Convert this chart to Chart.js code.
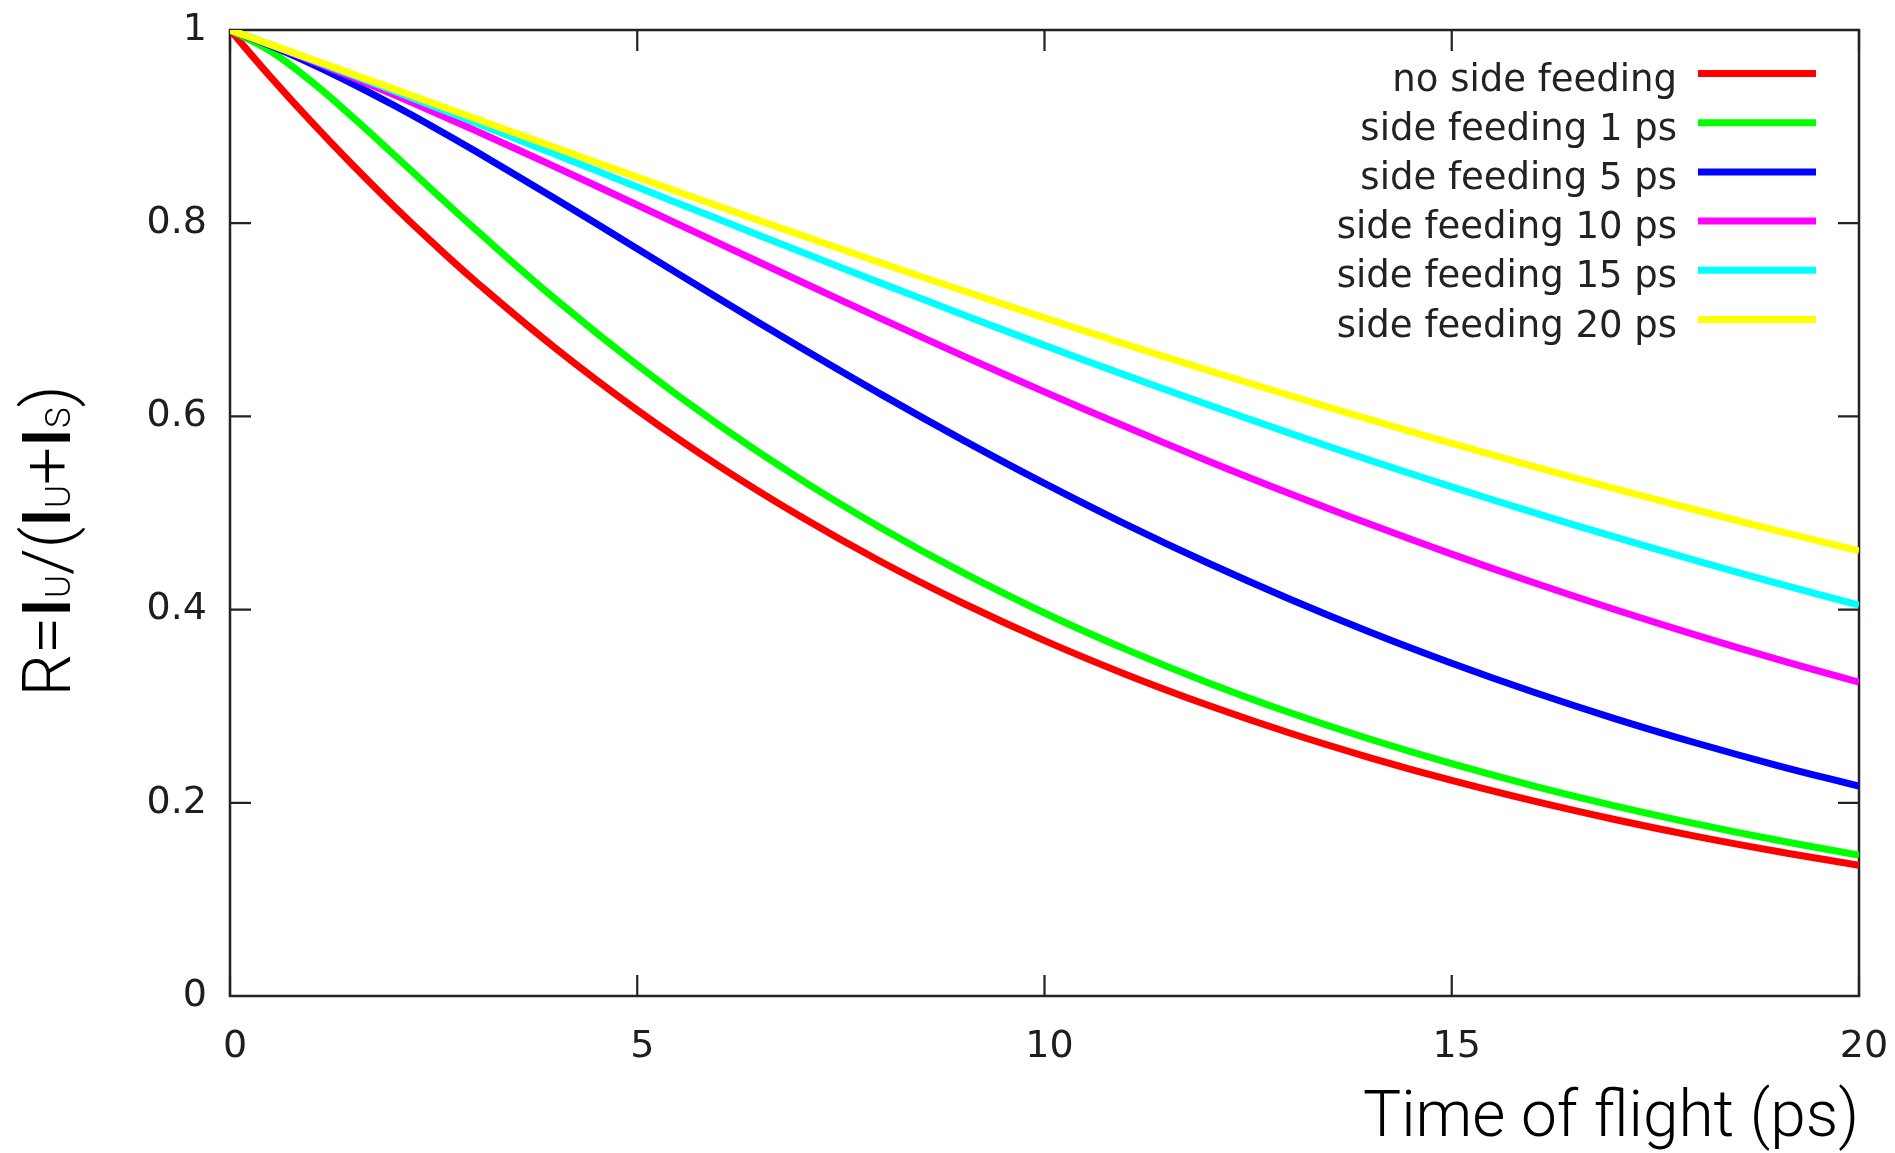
<!DOCTYPE html>
<html><head><meta charset="utf-8">
<script src="https://cdn.jsdelivr.net/npm/chart.js@4.4.1/dist/chart.umd.min.js"></script>
<style>
html,body{margin:0;padding:0;background:#fff;}
#wrap{width:1895px;height:1153px;position:relative;}
</style></head><body>
<div id="wrap"><canvas id="c" width="1895" height="1153"></canvas></div>
<script>
// ---- data ----
const times = [0,0.5,1,1.5,2,2.5,3,4,5,6,7,8,9,10,11,12,13,14,15,16,17,18,19,20];
const seriesLabels = ['no side feeding','side feeding 1 ps','side feeding 5 ps','side feeding 10 ps','side feeding 15 ps','side feeding 20 ps'];
const seriesColors = ['#ff0000','#00ff00','#0000ff','#ff00ff','#00ffff','#ffff00'];
const noSideFeeding = [1,0.9512,0.9048,0.8607,0.8187,0.7788,0.7408,0.6703,0.6065,0.5488,0.4966,0.4493,0.4066,0.3679,0.3329,0.3012,0.2725,0.2466,0.2231,0.2019,0.1827,0.1653,0.1496,0.1353];
const sideFeeding1  = [1,0.9780,0.9466,0.9103,0.8719,0.8330,0.7946,0.7210,0.6532,0.5913,0.5351,0.4843,0.4382,0.3965,0.3588,0.3246,0.2937,0.2658,0.2405,0.2176,0.1969,0.1782,0.1612,0.1459];
const sideFeeding5  = [1,0.9837,0.9651,0.9446,0.9226,0.8994,0.8752,0.8250,0.7736,0.7221,0.6716,0.6225,0.5755,0.5307,0.4883,0.4485,0.4113,0.3766,0.3445,0.3147,0.2872,0.2619,0.2386,0.2172];
const sideFeeding10 = [1,0.9845,0.9682,0.9511,0.9334,0.9151,0.8964,0.8580,0.8188,0.7793,0.7399,0.7010,0.6627,0.6254,0.5892,0.5542,0.5205,0.4883,0.4574,0.4280,0.4001,0.3736,0.3485,0.3248];
const sideFeeding15 = [1,0.9848,0.9692,0.9534,0.9373,0.9209,0.9044,0.8711,0.8375,0.8040,0.7706,0.7377,0.7053,0.6735,0.6425,0.6123,0.5830,0.5545,0.5271,0.5006,0.4752,0.4507,0.4272,0.4047];
const sideFeeding20 = [1,0.9849,0.9698,0.9546,0.9393,0.9240,0.9087,0.8781,0.8477,0.8176,0.7879,0.7587,0.7301,0.7020,0.6746,0.6479,0.6219,0.5966,0.5721,0.5483,0.5253,0.5031,0.4816,0.4609];
const seriesValues = [noSideFeeding, sideFeeding1, sideFeeding5, sideFeeding10, sideFeeding15, sideFeeding20];
const xTickLabels = ['0','5','10','15','20'];
const yTickLabels = ['0','0.2','0.4','0.6','0.8','1'];
const xAxisTitle = 'Time of flight (ps)';
const yTitleParts = [
  {t:'R=', small:false}, {t:'I', small:false, strong:true}, {t:'U', small:true},
  {t:'/(', small:false}, {t:'I', small:false, strong:true}, {t:'U', small:true},
  {t:'+', small:false}, {t:'I', small:false, strong:true}, {t:'S', small:true},
  {t:')', small:false}
];

const TITLE_FAMILY = 'Roboto, "Liberation Sans", sans-serif';
const TICK_FONT = {family:'"DejaVu Sans", sans-serif', size:38, lineHeight:1.2};

const datasets = seriesValues.map((vals, i) => ({
  label: seriesLabels[i],
  data: times.map((t, j) => ({x: t, y: vals[j]})),
  borderColor: seriesColors[i],
  backgroundColor: seriesColors[i],
  borderWidth: 7,
  pointRadius: 0,
  fill: false,
  tension: 0.4,
  order: seriesValues.length - i
}));

const framePlugin = {
  id: 'frame',
  beforeDatasetsDraw(chart) {
    const {ctx, chartArea: a, scales: {x, y}} = chart;
    ctx.save();
    ctx.strokeStyle = '#222';
    ctx.lineWidth = 2.5;
    ctx.strokeRect(a.left, a.top, a.right - a.left, a.bottom - a.top);
    ctx.lineWidth = 2.2;
    const len = 21;
    ctx.beginPath();
    x.ticks.forEach(t => {
      const px = x.getPixelForValue(t.value);
      ctx.moveTo(px, a.bottom); ctx.lineTo(px, a.bottom - len);
      ctx.moveTo(px, a.top); ctx.lineTo(px, a.top + len);
    });
    y.ticks.forEach(t => {
      const py = y.getPixelForValue(t.value);
      ctx.moveTo(a.left, py); ctx.lineTo(a.left + len, py);
      ctx.moveTo(a.right, py); ctx.lineTo(a.right - len, py);
    });
    ctx.stroke();
    ctx.restore();
  }
};

const legendPlugin = {
  id: 'insideLegend',
  afterDatasetsDraw(chart) {
    const {ctx, chartArea: a} = chart;
    ctx.save();
    ctx.font = '37px "DejaVu Sans", sans-serif';
    ctx.textAlign = 'right';
    ctx.textBaseline = 'alphabetic';
    chart.data.datasets.forEach((ds, i) => {
      const yy = a.top + 43.5 + 49.2 * i;
      ctx.fillStyle = '#222';
      ctx.fillText(ds.label, a.right - 182, yy + 17);
      ctx.strokeStyle = ds.borderColor;
      ctx.lineWidth = 7;
      ctx.beginPath();
      ctx.moveTo(a.right - 161, yy);
      ctx.lineTo(a.right - 43, yy);
      ctx.stroke();
    });
    ctx.restore();
  }
};

const yTitlePlugin = {
  id: 'yTitle',
  afterDraw(chart) {
    const {ctx} = chart;
    const big = 67, small = 35;
    const fontOf = p => (p.strong ? '500 ' : '300 ') + (p.small ? small : big) + 'px ' + TITLE_FAMILY;
    ctx.save();
    let total = 0;
    yTitleParts.forEach(p => { ctx.font = fontOf(p); total += ctx.measureText(p.t).width; });
    ctx.translate(70, 541);
    ctx.rotate(-Math.PI / 2);
    ctx.fillStyle = '#000';
    ctx.textBaseline = 'alphabetic';
    ctx.textAlign = 'left';
    let xx = -total / 2;
    yTitleParts.forEach(p => {
      ctx.font = fontOf(p);
      ctx.fillText(p.t, xx, 0);
      xx += ctx.measureText(p.t).width;
    });
    ctx.restore();
  }
};

new Chart(document.getElementById('c'), {
  type: 'line',
  data: {datasets},
  plugins: [framePlugin, legendPlugin, yTitlePlugin],
  options: {
    responsive: false,
    animation: false,
    layout: {padding: {top: 30, right: 36, left: 0, bottom: 0}},
    plugins: {legend: {display: false}, tooltip: {enabled: false}},
    scales: {
      x: {
        type: 'linear', min: 0, max: 20,
        grid: {display: false, drawTicks: false},
        border: {display: false},
        ticks: {stepSize: 5, padding: 28, labelOffset: 5, font: TICK_FONT, color: '#1e1e1e',
                maxRotation: 0, callback: (v, i) => xTickLabels[i]},
        title: {display: true, text: xAxisTitle, align: 'end', color: '#000',
                font: {family: TITLE_FAMILY, weight: 300, size: 64, lineHeight: 1},
                padding: {top: 0, bottom: 1}},
        afterFit: s => { s.height = 157; s.paddingLeft = 0; s.paddingRight = 0; }
      },
      y: {
        type: 'linear', min: 0, max: 1,
        grid: {display: false, drawTicks: false},
        border: {display: false},
        ticks: {stepSize: 0.2, padding: 23, font: TICK_FONT, color: '#1e1e1e',
                callback: (v, i) => yTickLabels[i]},
        afterFit: s => { s.width = 230; s.paddingTop = 0; s.paddingBottom = 0; }
      }
    }
  }
});
</script>
</body></html>
